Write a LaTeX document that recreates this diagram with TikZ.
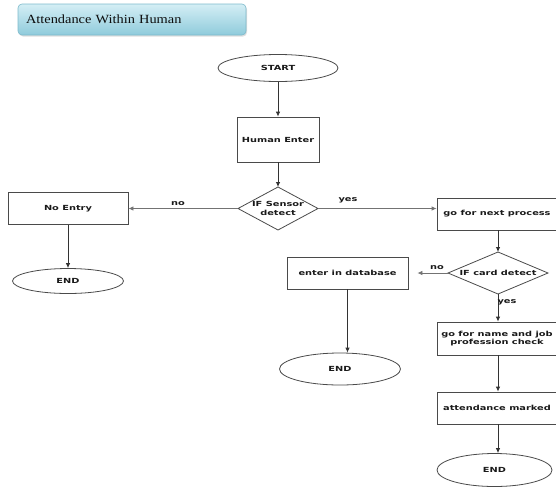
\documentclass[tikz,border=0pt]{standalone}
\usepackage{fontspec}
\usetikzlibrary{shapes.geometric,arrows.meta,shadows}
\newfontfamily\flowfont[FakeStretch=1.4]{DejaVu Sans}
\newfontfamily\titlefont[FakeStretch=1.15]{Liberation Serif}
\definecolor{boxline}{HTML}{4A4A4A}
\definecolor{titletop}{HTML}{D4EEF5}
\definecolor{titlebot}{HTML}{8FCBDB}
\definecolor{titleline}{HTML}{7DBACB}
\begin{document}
\begin{tikzpicture}[x=1pt,y=-1pt,
  every node/.style={font=\flowfont\bfseries\fontsize{7}{8.5}\selectfont, text=black!90, align=center},
  stepbox/.style={draw=boxline, line width=0.8pt, rectangle, inner sep=0pt},
  oval/.style={draw=boxline, line width=0.8pt, ellipse, inner sep=0pt},
  decision/.style={draw=boxline, line width=0.8pt, diamond, inner sep=0pt, outer sep=0pt},
  flow/.style={draw=black!80, line width=0.8pt, -{Latex[length=5pt,width=4.5pt]}},
  branch/.style={draw=black!55, line width=0.8pt, -{Latex[length=5pt,width=4.5pt]}},
  lbl/.style={inner sep=0pt}]
\useasboundingbox (0,0) rectangle (556,488);
\clip (0,0) rectangle (556,488);

% heading panel
\node[draw=titleline, line width=0.6pt, rounded corners=4pt,
      top color=titletop, bottom color=titlebot,
      drop shadow={shadow xshift=1pt, shadow yshift=-1.5pt, opacity=0.25},
      minimum width=228pt, minimum height=31pt, text width=212pt, align=left,
      font=\titlefont\fontsize{12.5}{14}\selectfont, text=black!95]
  (title) at (132,19.5) {Attendance Within Human};

% main column
\node[oval, minimum width=120pt, minimum height=27pt] (start) at (278,68) {START};
\node[stepbox, minimum width=82pt, minimum height=45pt] (human) at (278,139.5) {Human Enter};
\node[decision, minimum width=80pt, minimum height=43pt,
      label={[lbl, align=center]center:IF Sensor\\detect}] (sensor) at (278,208.5) {};

% rejected branch
\node[stepbox, minimum width=120pt, minimum height=32pt] (noentry) at (68,208.5) {No Entry};
\node[oval, minimum width=111pt, minimum height=25pt] (endA) at (68,281) {END};

% accepted branch
\node[stepbox, minimum width=120pt, minimum height=32pt] (next) at (497,214) {go for next process};
\node[decision, minimum width=100pt, minimum height=42pt,
      label={[lbl]center:IF card detect}] (card) at (498,273) {};
\node[stepbox, minimum width=121pt, minimum height=32pt] (db) at (347.5,273) {enter in database};
\node[oval, minimum width=121pt, minimum height=32pt] (endB) at (340,369) {END};
\node[stepbox, minimum width=120pt, minimum height=33pt] (check) at (497,338.5) {go for name and job\\profession check};
\node[stepbox, minimum width=120pt, minimum height=32pt] (marked) at (497,408) {attendance marked};
\node[oval, minimum width=115pt, minimum height=33pt] (endC) at (494.5,470) {END};

% connectors
\draw[flow] (start) -- (human);
\draw[flow] (human) -- (sensor.north);
\draw[branch] (sensor.west) -- (noentry.east);
\draw[branch] (sensor.east) -- (sensor.east -| next.west);
\draw[flow] (noentry) -- (endA);
\draw[flow] (next.south -| card.north) -- (card.north);
\draw[branch] (card.west) -- ([xshift=9pt]db.east);
\draw[flow] (db.south) -- (db.south |- endB.north);
\draw[flow] (card.south) -- (card.south |- check.north);
\draw[flow] (check.south -| card.south) -- (card.south |- marked.north);
\draw[flow] (marked.south -| card.south) -- (card.south |- endC.north);

% branch labels
\node[lbl] (lno1) at (178,204) {no};
\node[lbl] (lyes1) at (348,200.5) {yes};
\node[lbl] (lno2) at (437,267.5) {no};
\node[lbl] (lyes2) at (507,302) {yes};
\end{tikzpicture}
\end{document}
